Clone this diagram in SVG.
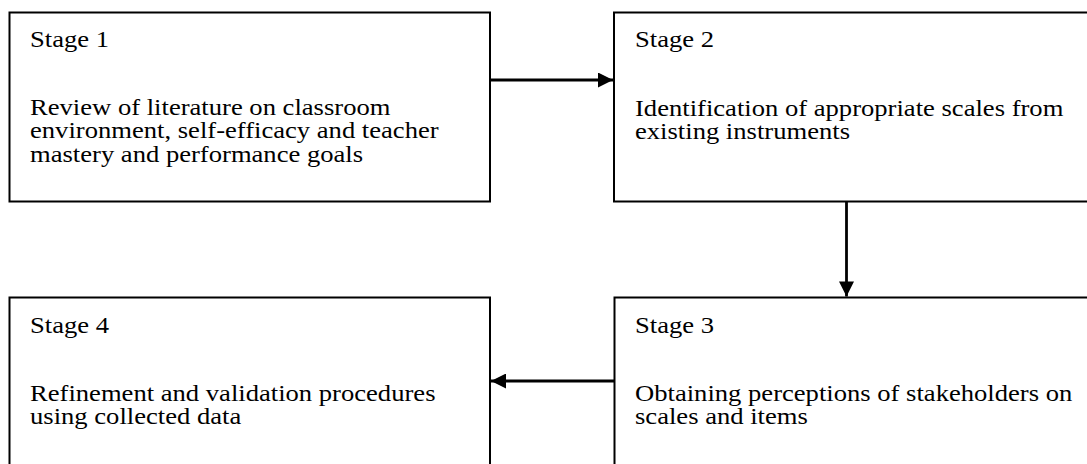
<svg xmlns="http://www.w3.org/2000/svg" width="1087" height="464" viewBox="0 0 1087 464">
<style>
.box{fill:#fff;stroke:#000;stroke-width:2}
.t{font-family:"Liberation Serif","Times New Roman",serif;font-size:23px;fill:#000}
.c{stroke:#000;stroke-width:2.8;fill:none}
</style>
<defs>
<marker id="ah" viewBox="0 0 10 10" refX="10" refY="5" markerWidth="16" markerHeight="15" markerUnits="userSpaceOnUse" orient="auto">
<path d="M0,0 L10,5 L0,10 Z" fill="#000"/>
</marker>
</defs>
<rect width="1087" height="464" fill="#fff"/>
<g id="stage1">
<rect class="box" x="9.5" y="12.5" width="480.5" height="189"/>
<g transform="translate(30,0) scale(1.157,1)">
<text class="t" x="0" y="47.5">Stage 1</text>
<text class="t" x="0" y="115">Review of literature on classroom</text>
<text class="t" x="0" y="138.5">environment, self-efficacy and teacher</text>
<text class="t" x="0" y="162">mastery and performance goals</text>
</g>
</g>
<g id="stage2">
<rect class="box" x="614" y="12.5" width="480" height="189"/>
<g transform="translate(635,0) scale(1.157,1)">
<text class="t" x="0" y="47.5">Stage 2</text>
<text class="t" x="0" y="116">Identification of appropriate scales from</text>
<text class="t" x="0" y="139.5">existing instruments</text>
</g>
</g>
<g id="stage3">
<rect class="box" x="614.5" y="297.5" width="480" height="180"/>
<g transform="translate(635,0) scale(1.157,1)">
<text class="t" x="0" y="333">Stage 3</text>
<text class="t" x="0" y="401">Obtaining perceptions of stakeholders on</text>
<text class="t" x="0" y="424.5">scales and items</text>
</g>
</g>
<g id="stage4">
<rect class="box" x="9.5" y="297.5" width="480.5" height="180"/>
<g transform="translate(30,0) scale(1.157,1)">
<text class="t" x="0" y="333">Stage 4</text>
<text class="t" x="0" y="401">Refinement and validation procedures</text>
<text class="t" x="0" y="424.5">using collected data</text>
</g>
</g>
<g id="connectors">
<line class="c" x1="490" y1="80" x2="613" y2="80" marker-end="url(#ah)"/>
<line class="c" x1="846.5" y1="201.5" x2="846.5" y2="296.5" marker-end="url(#ah)"/>
<line class="c" x1="614.5" y1="381" x2="491" y2="381" marker-end="url(#ah)"/>
</g>
</svg>
